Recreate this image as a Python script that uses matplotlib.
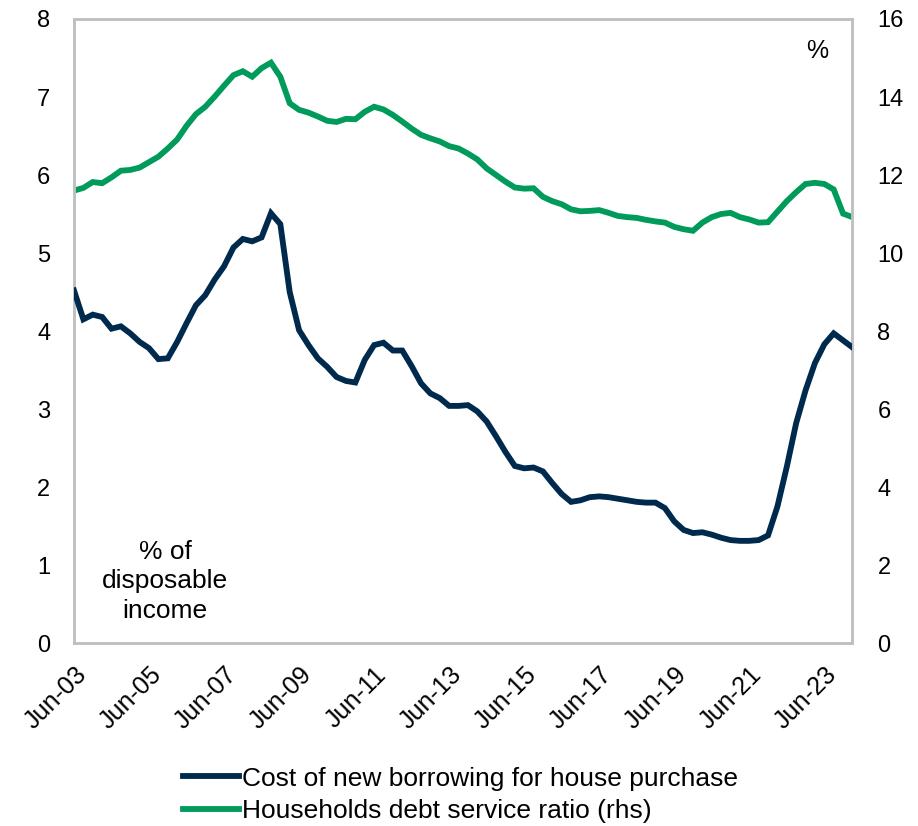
import matplotlib.pyplot as plt
import numpy as np
import pandas as pd

plt.rcParams['font.family'] = ['Liberation Sans', 'DejaVu Sans']

# quarterly, Jun-03 to Mar-24
quarters = pd.period_range("2003Q2", "2024Q1", freq="Q")

cost_new_borrowing = [
    4.52, 4.15, 4.21, 4.18, 4.03, 4.06, 3.97, 3.86, 3.78, 3.64,
    3.65, 3.86, 4.10, 4.33, 4.46, 4.66, 4.83, 5.07, 5.18, 5.15,
    5.20, 5.51, 5.37, 4.50, 4.01, 3.82, 3.65, 3.54, 3.41, 3.36,
    3.34, 3.63, 3.82, 3.85, 3.75, 3.75, 3.55, 3.33, 3.20, 3.14,
    3.04, 3.04, 3.05, 2.97, 2.84, 2.65, 2.45, 2.27, 2.24, 2.25,
    2.20, 2.05, 1.91, 1.81, 1.83, 1.87, 1.88, 1.87, 1.85, 1.83,
    1.81, 1.80, 1.80, 1.73, 1.56, 1.45, 1.41, 1.42, 1.39, 1.35,
    1.32, 1.31, 1.31, 1.32, 1.38, 1.75, 2.26, 2.82, 3.24, 3.59,
    3.83, 3.97, 3.88, 3.79,
]

debt_service_ratio = [
    11.60, 11.67, 11.82, 11.79, 11.94, 12.11, 12.13, 12.19, 12.33, 12.47,
    12.68, 12.91, 13.26, 13.56, 13.75, 14.01, 14.29, 14.56, 14.66, 14.52,
    14.74, 14.88, 14.52, 13.84, 13.67, 13.60, 13.50, 13.39, 13.36, 13.44,
    13.43, 13.62, 13.75, 13.68, 13.54, 13.37, 13.19, 13.03, 12.94, 12.86,
    12.74, 12.68, 12.55, 12.40, 12.17, 12.00, 11.83, 11.68, 11.65, 11.66,
    11.44, 11.33, 11.25, 11.12, 11.07, 11.08, 11.10, 11.03, 10.95, 10.92,
    10.90, 10.85, 10.81, 10.78, 10.67, 10.61, 10.57, 10.78, 10.92, 11.00,
    11.03, 10.92, 10.86, 10.78, 10.79, 11.06, 11.33, 11.56, 11.77, 11.80,
    11.77, 11.63, 11.01, 10.92,
]

navy = "#002A4D"
green = "#009A5B"

x = np.arange(len(quarters))
tick_pos = x[::8]
tick_labels = [q.strftime("%b-%y") for q in quarters[::8]]

fig = plt.figure(figsize=(9.18, 8.26), dpi=100)
ax = fig.add_axes([0.0806, 0.2215, 0.848, 0.7555])
ax2 = ax.twinx()

l1, = ax.plot(x, cost_new_borrowing, color=navy, lw=4.2, solid_joinstyle="miter",
              label="Cost of new borrowing for house purchase", zorder=3)
l2, = ax2.plot(x, debt_service_ratio, color=green, lw=4.2, solid_joinstyle="miter",
               label="Households debt service ratio (rhs)")

ax.set_xlim(0, len(x) - 1)
ax.set_ylim(0, 8)
ax2.set_ylim(0, 16)
ax.set_yticks(range(0, 9))
ax2.set_yticks(range(0, 17, 2))
ax.set_xticks(tick_pos)
ax.set_xticklabels(tick_labels, rotation=45, ha="right", rotation_mode="anchor")

for a in (ax, ax2):
    a.tick_params(length=0, labelsize=17, colors="black")
    for s in a.spines.values():
        s.set_color("#BFBFBF")
        s.set_linewidth(1.8)
ax.tick_params(axis="y", pad=17)
ax2.tick_params(axis="y", pad=18)
ax.tick_params(axis="x", pad=14, labelsize=18)

# keep the navy line above the green one
ax.set_zorder(ax2.get_zorder() + 1)
ax.patch.set_visible(False)

ax.text(0.117, 0.099, "% of\ndisposable\nincome", transform=ax.transAxes,
        ha="center", va="center", fontsize=19, linespacing=1.28)
ax2.text(0.955, 0.949, "%", transform=ax.transAxes, ha="center", va="center",
         fontsize=18)

fig.legend(handles=[l1, l2], loc="lower left", bbox_to_anchor=(0.196, 0.0),
           frameon=False, fontsize=19, handlelength=2.15, handletextpad=0.1,
           labelspacing=0.33, borderaxespad=0, borderpad=0.1)

fig.savefig("out.png", dpi=100)
